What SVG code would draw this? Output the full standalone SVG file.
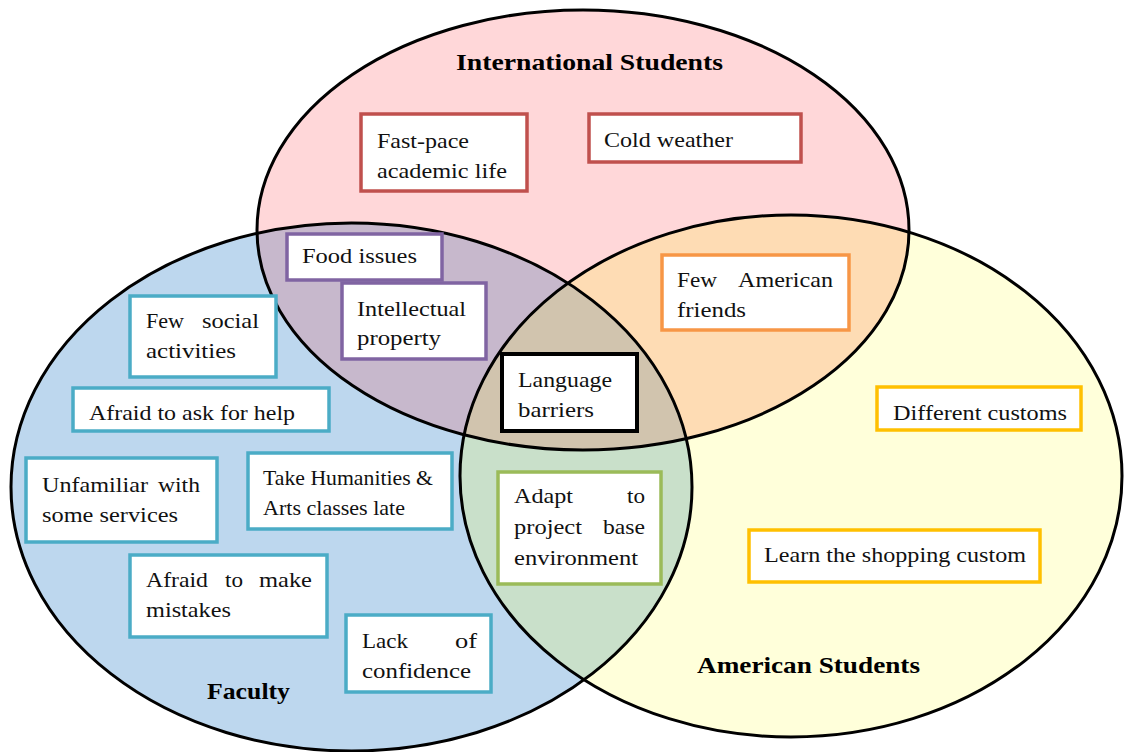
<svg xmlns="http://www.w3.org/2000/svg" width="1124" height="752" viewBox="0 0 1124 752">
<style>
.t{font-family:"Liberation Serif","Times New Roman",serif;font-size:22px;fill:#111}
.h{font-family:"Liberation Serif","Times New Roman",serif;font-size:24px;font-weight:bold;fill:#000}
.box{fill:#fff;stroke-width:3.5}
.red{stroke:#C0504D}.pur{stroke:#8064A2}.teal{stroke:#4BACC6}.org{stroke:#F79646}.gold{stroke:#FFC000}.grn{stroke:#9BBB59}.blk{stroke:#000;stroke-width:4}
.ol{fill:none;stroke:#000;stroke-width:3}
</style>
<defs>
<clipPath id="cP"><ellipse cx="583" cy="230" rx="326" ry="220"/></clipPath>
<clipPath id="cB"><ellipse cx="351.5" cy="487" rx="340.5" ry="264"/></clipPath>
</defs>
<g id="circles">
<ellipse cx="583" cy="230" rx="326" ry="220" fill="#FFD7D9"/>
<ellipse cx="351.5" cy="487" rx="340.5" ry="264" fill="#BDD7EE"/>
<ellipse cx="791" cy="476" rx="331" ry="261" fill="#FFFFDA"/>
<ellipse cx="351.5" cy="487" rx="340.5" ry="264" fill="#C7B8CC" clip-path="url(#cP)"/>
<ellipse cx="791" cy="476" rx="331" ry="261" fill="#FEDCB4" clip-path="url(#cP)"/>
<ellipse cx="791" cy="476" rx="331" ry="261" fill="#C9E0CA" clip-path="url(#cB)"/>
<g clip-path="url(#cB)"><ellipse cx="791" cy="476" rx="331" ry="261" fill="#D1C4AE" clip-path="url(#cP)"/></g>
<ellipse class="ol" cx="583" cy="230" rx="326" ry="220"/>
<ellipse class="ol" cx="351.5" cy="487" rx="340.5" ry="264"/>
<ellipse class="ol" cx="791" cy="476" rx="331" ry="261"/>
</g>
<g id="titles">
<text class="h" x="456" y="70" textLength="267" lengthAdjust="spacingAndGlyphs">International  Students</text>
<text class="h" x="207" y="699" textLength="83" lengthAdjust="spacingAndGlyphs">Faculty</text>
<text class="h" x="697" y="673" textLength="223" lengthAdjust="spacingAndGlyphs">American  Students</text>
</g>
<g id="n-fastpace">
<rect class="box red" x="361" y="114" width="166" height="77"/>
<text class="t" x="377" y="148" textLength="92" lengthAdjust="spacingAndGlyphs">Fast-pace</text>
<text class="t" x="377" y="178" textLength="130" lengthAdjust="spacingAndGlyphs">academic life</text>
</g>
<g id="n-cold">
<rect class="box red" x="589" y="114" width="212" height="48"/>
<text class="t" x="604" y="147" textLength="129" lengthAdjust="spacingAndGlyphs">Cold weather</text>
</g>
<g id="n-food">
<rect class="box pur" x="287" y="234" width="155" height="46"/>
<text class="t" x="302" y="263" textLength="115" lengthAdjust="spacingAndGlyphs">Food issues</text>
</g>
<g id="n-intellectual">
<rect class="box pur" x="342" y="283" width="144" height="76"/>
<text class="t" x="357" y="316" textLength="109" lengthAdjust="spacingAndGlyphs">Intellectual</text>
<text class="t" x="357" y="345" textLength="84" lengthAdjust="spacingAndGlyphs">property</text>
</g>
<g id="n-fewamerican">
<rect class="box org" x="662" y="255" width="187" height="75"/>
<text class="t" y="287"><tspan x="677" textLength="40" lengthAdjust="spacingAndGlyphs">Few</tspan><tspan x="738" textLength="95" lengthAdjust="spacingAndGlyphs">American</tspan></text>
<text class="t" x="677" y="317" textLength="69" lengthAdjust="spacingAndGlyphs">friends</text>
</g>
<g id="n-fewsocial">
<rect class="box teal" x="130" y="296" width="146" height="81"/>
<text class="t" y="328"><tspan x="146" textLength="38" lengthAdjust="spacingAndGlyphs">Few</tspan><tspan x="202" textLength="57" lengthAdjust="spacingAndGlyphs">social</tspan></text>
<text class="t" x="146" y="358" textLength="90" lengthAdjust="spacingAndGlyphs">activities</text>
</g>
<g id="n-askhelp">
<rect class="box teal" x="73" y="388" width="256" height="43"/>
<text class="t" x="89" y="420" textLength="206" lengthAdjust="spacingAndGlyphs">Afraid to ask for help</text>
</g>
<g id="n-language">
<rect class="box blk" x="502" y="354" width="135" height="77"/>
<text class="t" x="518" y="387" textLength="94" lengthAdjust="spacingAndGlyphs">Language</text>
<text class="t" x="518" y="417" textLength="76" lengthAdjust="spacingAndGlyphs">barriers</text>
</g>
<g id="n-customs">
<rect class="box gold" x="877" y="387" width="204" height="43"/>
<text class="t" x="893" y="420" textLength="174" lengthAdjust="spacingAndGlyphs">Different customs</text>
</g>
<g id="n-unfamiliar">
<rect class="box teal" x="26" y="458" width="191" height="84"/>
<text class="t" y="492"><tspan x="42" textLength="106" lengthAdjust="spacingAndGlyphs">Unfamiliar</tspan><tspan x="158" textLength="42" lengthAdjust="spacingAndGlyphs">with</tspan></text>
<text class="t" x="42" y="522" textLength="136" lengthAdjust="spacingAndGlyphs">some services</text>
</g>
<g id="n-humanities">
<rect class="box teal" x="248" y="453" width="204" height="76"/>
<text class="t" x="263" y="485" textLength="170" lengthAdjust="spacingAndGlyphs">Take Humanities &amp;</text>
<text class="t" x="263" y="515" textLength="142" lengthAdjust="spacingAndGlyphs">Arts classes late</text>
</g>
<g id="n-adapt">
<rect class="box grn" x="498" y="472" width="163" height="112"/>
<text class="t" y="503"><tspan x="514" textLength="59" lengthAdjust="spacingAndGlyphs">Adapt</tspan><tspan x="627" textLength="18" lengthAdjust="spacingAndGlyphs">to</tspan></text>
<text class="t" y="534"><tspan x="514" textLength="68" lengthAdjust="spacingAndGlyphs">project</tspan><tspan x="603" textLength="42" lengthAdjust="spacingAndGlyphs">base</tspan></text>
<text class="t" x="514" y="565" textLength="124" lengthAdjust="spacingAndGlyphs">environment</text>
</g>
<g id="n-shopping">
<rect class="box gold" x="749" y="530" width="291" height="52"/>
<text class="t" x="764" y="562" textLength="262" lengthAdjust="spacingAndGlyphs">Learn the shopping custom</text>
</g>
<g id="n-mistakes">
<rect class="box teal" x="130" y="555" width="197" height="82"/>
<text class="t" y="587"><tspan x="146" textLength="62" lengthAdjust="spacingAndGlyphs">Afraid</tspan><tspan x="225" textLength="18" lengthAdjust="spacingAndGlyphs">to</tspan><tspan x="259" textLength="53" lengthAdjust="spacingAndGlyphs">make</tspan></text>
<text class="t" x="146" y="617" textLength="85" lengthAdjust="spacingAndGlyphs">mistakes</text>
</g>
<g id="n-lack">
<rect class="box teal" x="346" y="615" width="145" height="77"/>
<text class="t" y="648"><tspan x="362" textLength="46" lengthAdjust="spacingAndGlyphs">Lack</tspan><tspan x="455" textLength="22" lengthAdjust="spacingAndGlyphs">of</tspan></text>
<text class="t" x="362" y="678" textLength="109" lengthAdjust="spacingAndGlyphs">confidence</text>
</g>
</svg>
